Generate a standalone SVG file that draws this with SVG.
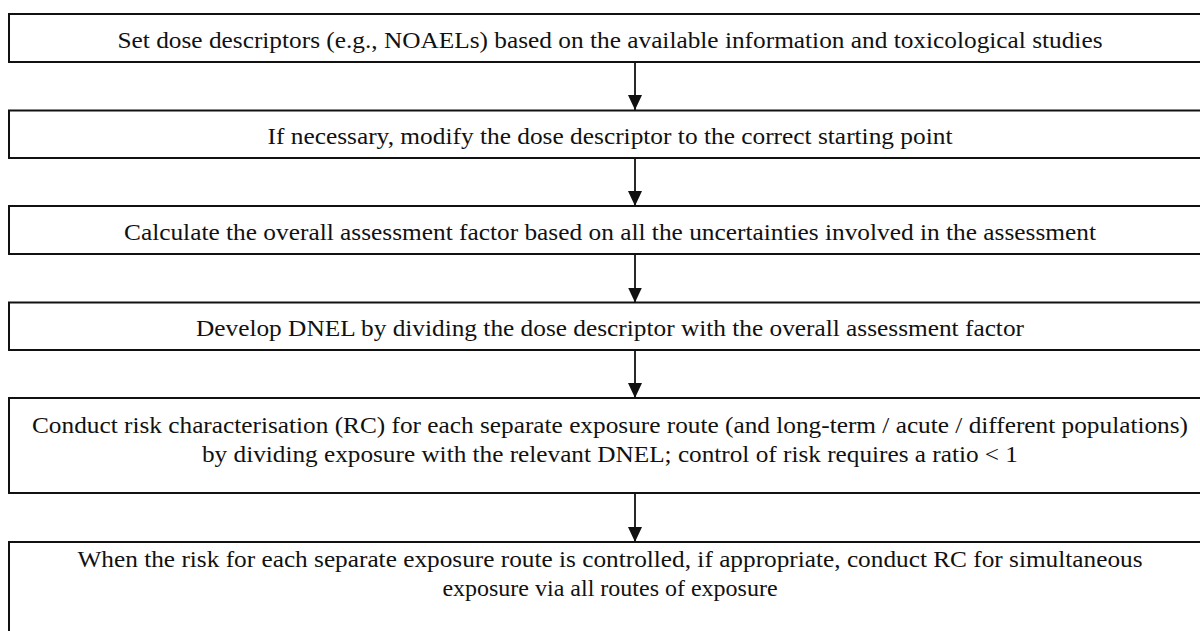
<svg xmlns="http://www.w3.org/2000/svg" width="1200" height="631" viewBox="0 0 1200 631">
<style>
.box{fill:#fff;stroke:#111;stroke-width:2}
.t{font-family:"Liberation Serif","Times New Roman",serif;font-size:24px;fill:#111;text-anchor:middle}
.c{stroke:#111;stroke-width:1.8;fill:none}
</style>
<defs>
<marker id="ah" viewBox="0 0 15 14" refX="15" refY="7" markerWidth="15" markerHeight="14" markerUnits="userSpaceOnUse" orient="auto">
<path d="M0,0 L15,7 L0,14 Z" fill="#111"/>
</marker>
</defs>
<rect width="1200" height="631" fill="#fff"/>
<g id="connectors">
<line class="c" x1="635" y1="62" x2="635" y2="110" marker-end="url(#ah)"/>
<line class="c" x1="635" y1="158" x2="635" y2="206" marker-end="url(#ah)"/>
<line class="c" x1="635" y1="254" x2="635" y2="302.5" marker-end="url(#ah)"/>
<line class="c" x1="635" y1="350" x2="635" y2="398" marker-end="url(#ah)"/>
<line class="c" x1="635" y1="493" x2="635" y2="542" marker-end="url(#ah)"/>
</g>
<g id="n1">
<rect class="box" x="9" y="14" width="1260" height="48"/>
<text class="t" x="610" y="48" textLength="985" lengthAdjust="spacingAndGlyphs">Set dose descriptors (e.g., NOAELs) based on the available information and toxicological studies</text>
</g>
<g id="n2">
<rect class="box" x="9" y="110.5" width="1260" height="47.5"/>
<text class="t" x="610" y="143.5" textLength="685" lengthAdjust="spacingAndGlyphs">If necessary, modify the dose descriptor to the correct starting point</text>
</g>
<g id="n3">
<rect class="box" x="9" y="206" width="1260" height="48"/>
<text class="t" x="610" y="240" textLength="972" lengthAdjust="spacingAndGlyphs">Calculate the overall assessment factor based on all the uncertainties involved in the assessment</text>
</g>
<g id="n4">
<rect class="box" x="9" y="302.5" width="1260" height="47.5"/>
<text class="t" x="610" y="335.5" textLength="828" lengthAdjust="spacingAndGlyphs">Develop DNEL by dividing the dose descriptor with the overall assessment factor</text>
</g>
<g id="n5">
<rect class="box" x="9" y="398" width="1260" height="95"/>
<text class="t" x="610" y="433" textLength="1156" lengthAdjust="spacingAndGlyphs">Conduct risk characterisation (RC) for each separate exposure route (and long-term / acute / different populations)</text>
<text class="t" x="610" y="461.5" textLength="816" lengthAdjust="spacingAndGlyphs">by dividing exposure with the relevant DNEL; control of risk requires a ratio &lt; 1</text>
</g>
<g id="n6">
<rect class="box" x="9" y="542" width="1260" height="120"/>
<text class="t" x="610" y="567" textLength="1065" lengthAdjust="spacingAndGlyphs">When the risk for each separate exposure route is controlled, if appropriate, conduct RC for simultaneous</text>
<text class="t" x="610" y="595.5">exposure via all routes of exposure</text>
</g>
</svg>
